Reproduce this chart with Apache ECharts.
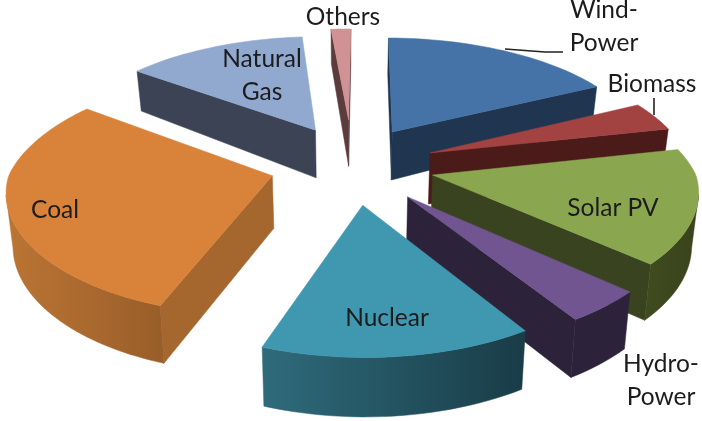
<!DOCTYPE html>
<html>
<head>
<meta charset="utf-8">
<style>html,body{margin:0;padding:0;background:#fff}#chart{width:702px;height:421px}</style>
<script src="https://cdn.jsdelivr.net/npm/echarts@6/dist/echarts.min.js"></script>
</head>
<body>
<div id="chart"></div>
<script>
// Generation mix, share of total in percent
const categories = ['Wind-Power', 'Biomass', 'Solar PV', 'Hydro-Power', 'Nuclear', 'Coal', 'Natural Gas', 'Others'];
const shares = [17.5, 3.9, 15.1, 4.3, 14.6, 29.6, 13.5, 1.5];

// How far each wedge is pulled out of the pie, and in which compass direction
const explodeDistance = [73, 82, 86, 89, 86, 82, 72, 85];
const explodeBearing = [37, 80, 110, 142, 172, 248, 330, 359];
// Painting order, far wedges first
const paintRank = [2, 3, 5, 6, 7, 4, 1, 0];

const topColors = ['#4573a7', '#a34341', '#8aa64f', '#705590', '#4098b0', '#d9823a', '#92a9cf', '#d09294'];
const cutColors = ['#1f3550', '#4a1b19', '#3a431f', '#2c2239', '#2d6a79', '#a5672e', '#3b4355', '#5c3b3c'];
const rimLeftColors = ['#1f3550', '#4a1b19', '#3f4a1f', '#2c2239', '#2f6b7b', '#bb7534', '#3b4355', '#5c3b3c'];
const rimRightColors = ['#1f3550', '#4a1b19', '#3a431c', '#2c2239', '#193c47', '#9a5e2a', '#3b4355', '#5c3b3c'];

// Pie geometry: tilted plane with a mild perspective; the near rim is eased in a little
const CX = 350, CY = 160, TILT = 0.5, PERSPECTIVE = 0.0007;
const RX = 258, RY = 236, NEAR_EASE_X = 0.08, NEAR_EASE_Y = 0.05;
const THICKNESS = 52, BASE_SHRINK = 0.98, START_ANGLE = 0.56;

function project(x, y, lowered) {
  const w = 1 / (1 - PERSPECTIVE * y);
  const sx = x * w, sy = TILT * y * w;
  return lowered
    ? [CX + sx * BASE_SHRINK, CY + sy + THICKNESS * Math.pow(w, w < 1 ? 2 : 0.55)]
    : [CX + sx, CY + sy];
}

function wall(pts, fill) {
  const lower = pts.map(p => project(p[0], p[1], true));
  const upper = pts.map(p => project(p[0], p[1], false));
  return {
    type: 'polygon',
    shape: { points: upper.concat(lower.reverse()) },
    style: { fill: fill, stroke: fill, lineWidth: 0.5 }
  };
}

function renderWedge(params, api) {
  const i = params.dataIndex;
  const total = shares.reduce((a, b) => a + b, 0);
  const before = shares.slice(0, i).reduce((a, b) => a + b, 0);
  const a0 = START_ANGLE + before / total * 360;
  const a1 = a0 + api.value(0) / total * 360;
  const bearing = explodeBearing[i] * Math.PI / 180;
  const ox = Math.sin(bearing) * explodeDistance[i];
  const oy = -Math.cos(bearing) * explodeDistance[i];

  const apex = [ox, oy];
  const arc = [];
  const steps = Math.max(3, Math.ceil((a1 - a0) / 2));
  for (let s = 0; s <= steps; s++) {
    const t = (a0 + (a1 - a0) * s / steps) * Math.PI / 180;
    const near = Math.max(0, -Math.cos(t));
    arc.push([
      ox + RX * (1 - NEAR_EASE_X * near) * Math.sin(t),
      oy - RY * (1 - NEAR_EASE_Y * near) * Math.cos(t)
    ]);
  }

  const sx = p => project(p[0], p[1], false)[0];
  const children = [];
  // Only faces turned towards the viewer are drawn
  const first = arc[0], last = arc[arc.length - 1];
  if (sx(first) < sx(apex)) children.push(wall([apex, first], cutColors[i]));
  if (sx(apex) < sx(last)) children.push(wall([last, apex], cutColors[i]));

  let run = [];
  const runs = [];
  for (let s = 0; s < arc.length - 1; s++) {
    if (sx(arc[s + 1]) < sx(arc[s])) {
      if (!run.length) run.push(arc[s]);
      run.push(arc[s + 1]);
    } else if (run.length) { runs.push(run); run = []; }
  }
  if (run.length) runs.push(run);
  runs.forEach(r => {
    const xs = r.map(sx);
    children.push(wall(r, {
      type: 'linear', global: true,
      x: Math.min.apply(null, xs), y: 0, x2: Math.max.apply(null, xs), y2: 0,
      colorStops: [{ offset: 0, color: rimLeftColors[i] }, { offset: 1, color: rimRightColors[i] }]
    }));
  });

  const outline = [apex].concat(arc).map(p => project(p[0], p[1], false));
  children.push({
    type: 'polygon',
    shape: { points: outline },
    style: { fill: topColors[i], stroke: topColors[i], lineWidth: 0.5 }
  });
  return { type: 'group', z2: paintRank[i], children: children.map(c => Object.assign(c, { z2: paintRank[i] })) };
}

const LABEL_FONT = 'Lato, sans-serif';
function caption(text, x, y) {
  return {
    type: 'text', x: x, y: y, z: 10,
    style: { text: text, fill: '#1c1c1c', font: '24.5px ' + LABEL_FONT, align: 'center', verticalAlign: 'middle', lineHeight: 33 }
  };
}
function leader(points) {
  return { type: 'polyline', z: 9, shape: { points: points }, style: { stroke: '#222', lineWidth: 1.6, fill: null } };
}

const chart = echarts.init(document.getElementById('chart'), null, { renderer: 'canvas' });
chart.setOption({
  animation: false,
  backgroundColor: '#fff',
  series: [{
    type: 'custom',
    coordinateSystem: 'none',
    renderItem: renderWedge,
    data: shares.map((v, i) => ({ name: categories[i], value: v }))
  }],
  graphic: [
    caption('Wind-\nPower', 604, 27),
    caption('Biomass', 652, 84),
    caption('Solar PV', 613, 208),
    caption('Hydro-\nPower', 661, 381),
    caption('Nuclear', 387, 318),
    caption('Coal', 55, 210),
    caption('Natural\nGas', 262, 76),
    caption('Others', 343, 17),
    leader([[505, 49], [545, 52], [563, 52]]),
    leader([[654, 98], [654, 115]])
  ]
});
</script>
</body>
</html>
